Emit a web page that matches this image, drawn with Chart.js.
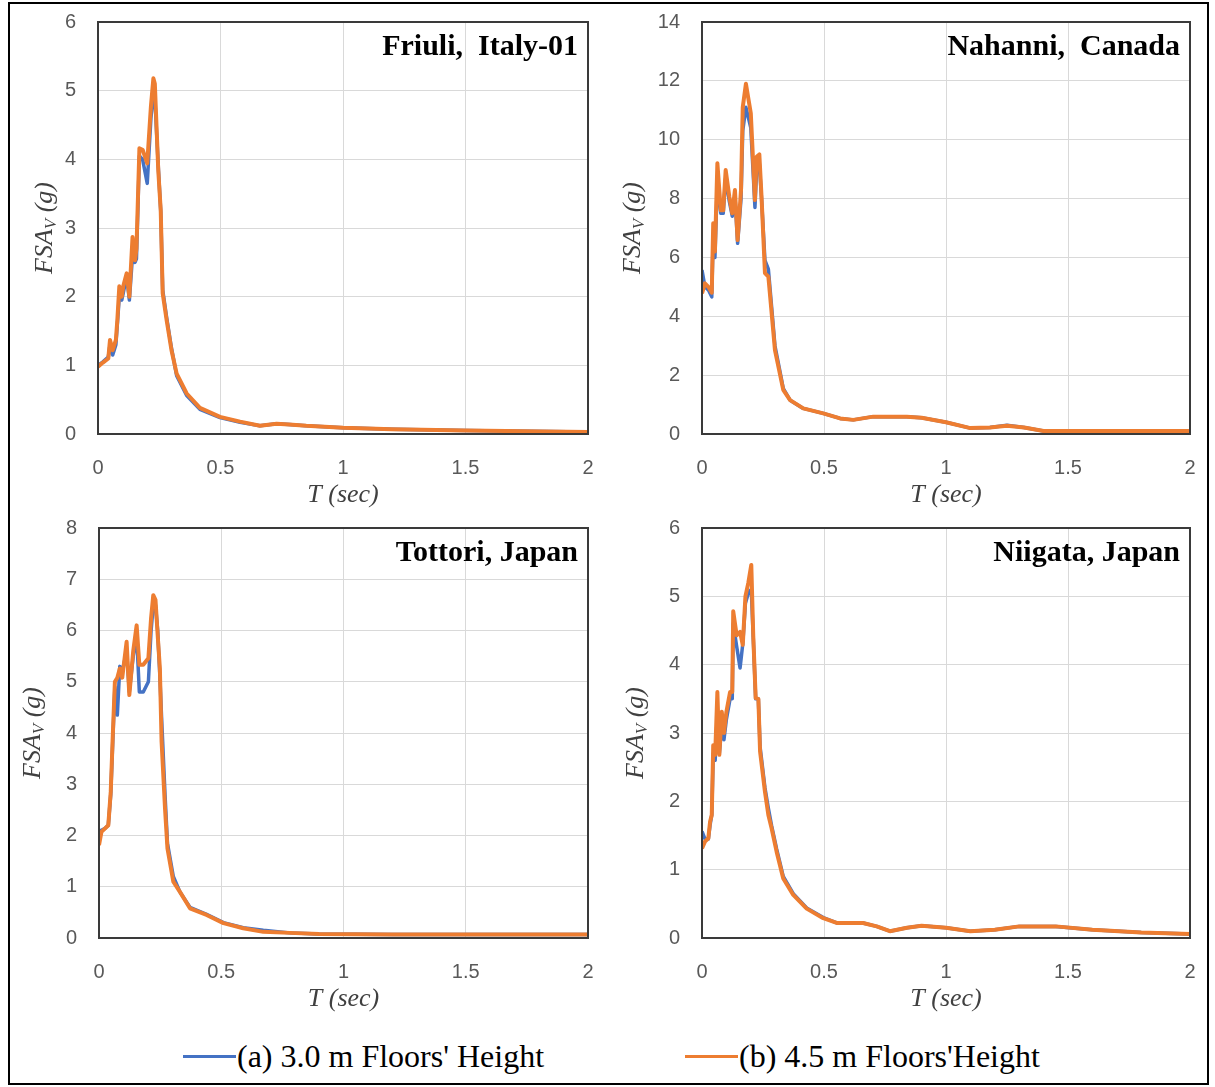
<!DOCTYPE html>
<html>
<head>
<meta charset="utf-8">
<script src="https://cdn.jsdelivr.net/npm/chart.js@4.4.1/dist/chart.umd.min.js"></script>
<style>
  body { margin: 0; background: #fff; width: 1215px; height: 1087px; position: relative; overflow: hidden; }
  #frame { position: absolute; left: 8px; top: 2px; width: 1201px; height: 1083px; border: 2px solid #000; box-sizing: border-box; }
  .panel { position: absolute; }
  .legend { position: absolute; top: 1036px; height: 40px; font-family: "Liberation Serif", "Times New Roman", serif; font-size: 32px; color: #000; white-space: nowrap; display: flex; align-items: center; }
  .legend span.swatch { display: inline-block; width: 53px; height: 3px; margin-right: 1px; }
</style>
</head>
<body>
<div id="frame"></div>
<div class="panel" style="left:10px;top:0px"><canvas id="c1" width="590" height="520"></canvas></div>
<div class="panel" style="left:610px;top:0px"><canvas id="c2" width="595" height="520"></canvas></div>
<div class="panel" style="left:10px;top:508px"><canvas id="c3" width="590" height="520"></canvas></div>
<div class="panel" style="left:610px;top:508px"><canvas id="c4" width="595" height="520"></canvas></div>
<div class="legend" style="left:183px"><span class="swatch" style="background:#4472C4"></span>(a) 3.0 m Floors' Height</div>
<div class="legend" style="left:685px"><span class="swatch" style="background:#ED7D31"></span>(b) 4.5 m Floors'Height</div>
<script>
// Floor spectral accelerations, period T (sec) vs FSA_V (g)
const friuliT      = [0, 0.02, 0.042, 0.049, 0.06, 0.073, 0.079, 0.087, 0.097, 0.103, 0.117, 0.128, 0.141, 0.151, 0.157, 0.169, 0.182, 0.201, 0.216, 0.226, 0.232, 0.246, 0.256, 0.264, 0.28, 0.30, 0.321, 0.362, 0.416, 0.498, 0.58, 0.661, 0.729, 0.78, 0.85, 1.0, 1.2, 1.5, 1.75, 2.0];
const friuli30     = [1.0, 1.05, 1.12, 1.3, 1.15, 1.3, 1.6, 2.0, 1.95, 2.05, 2.3, 1.95, 2.6, 2.5, 2.55, 4.05, 4.0, 3.65, 4.6, 4.95, 4.9, 3.9, 3.25, 2.1, 1.7, 1.25, 0.85, 0.56, 0.36, 0.24, 0.17, 0.12, 0.15, 0.14, 0.12, 0.09, 0.07, 0.05, 0.04, 0.03];
const friuli45     = [0.98, 1.04, 1.10, 1.37, 1.22, 1.37, 1.66, 2.15, 2.0, 2.15, 2.34, 2.0, 2.87, 2.53, 2.7, 4.16, 4.14, 3.94, 4.77, 5.18, 5.1, 3.84, 3.26, 2.05, 1.66, 1.22, 0.88, 0.59, 0.38, 0.25, 0.18, 0.12, 0.15, 0.14, 0.12, 0.09, 0.07, 0.05, 0.04, 0.03];

const nahanniT     = [0, 0.012, 0.026, 0.040, 0.046, 0.053, 0.063, 0.077, 0.087, 0.097, 0.112, 0.124, 0.135, 0.146, 0.16, 0.167, 0.18, 0.2, 0.217, 0.224, 0.235, 0.244, 0.258, 0.272, 0.299, 0.333, 0.361, 0.415, 0.497, 0.566, 0.62, 0.702, 0.77, 0.839, 0.9, 1.0, 1.1, 1.18, 1.25, 1.32, 1.4, 1.6, 1.8, 2.0];
const nahanni30    = [5.57, 5.0, 4.9, 4.66, 6.8, 6.0, 8.6, 7.5, 7.5, 8.7, 7.9, 7.4, 8.1, 6.48, 8.0, 10.3, 11.1, 10.4, 7.7, 9.0, 9.2, 8.0, 5.9, 5.6, 3.0, 1.55, 1.15, 0.87, 0.70, 0.53, 0.48, 0.59, 0.59, 0.59, 0.55, 0.4, 0.2, 0.22, 0.3, 0.22, 0.1, 0.1, 0.1, 0.1];
const nahanni45    = [4.78, 5.12, 5.0, 4.8, 7.16, 6.2, 9.2, 7.6, 7.6, 8.97, 8.06, 7.5, 8.29, 6.59, 8.3, 11.1, 11.9, 10.9, 7.95, 9.42, 9.5, 8.06, 5.47, 5.35, 2.85, 1.5, 1.15, 0.87, 0.70, 0.53, 0.48, 0.59, 0.59, 0.59, 0.55, 0.4, 0.2, 0.22, 0.28, 0.22, 0.1, 0.1, 0.1, 0.1];

const tottoriT     = [0, 0.01, 0.025, 0.038, 0.048, 0.056, 0.065, 0.075, 0.085, 0.095, 0.113, 0.124, 0.14, 0.154, 0.165, 0.181, 0.202, 0.213, 0.222, 0.231, 0.24, 0.249, 0.256, 0.27, 0.28, 0.304, 0.331, 0.372, 0.44, 0.509, 0.59, 0.672, 0.78, 0.9, 1.2, 1.6, 2.0];
const tottori30    = [2.1, 2.1, 2.14, 2.2, 2.8, 3.8, 4.9, 4.35, 5.3, 5.2, 5.6, 4.8, 5.5, 5.9, 4.8, 4.8, 5.0, 6.0, 6.5, 6.5, 6.0, 5.1, 4.3, 2.8, 1.85, 1.2, 0.9, 0.6, 0.46, 0.3, 0.2, 0.15, 0.1, 0.08, 0.07, 0.07, 0.07];
const tottori45    = [1.81, 2.07, 2.14, 2.2, 2.85, 3.9, 5.0, 5.08, 5.26, 5.08, 5.78, 4.74, 5.6, 6.1, 5.33, 5.33, 5.46, 6.24, 6.69, 6.6, 5.91, 5.26, 3.83, 2.53, 1.75, 1.1, 0.9, 0.58, 0.45, 0.29, 0.19, 0.12, 0.1, 0.08, 0.07, 0.07, 0.07];

const niigataT     = [0, 0.012, 0.026, 0.033, 0.04, 0.046, 0.054, 0.063, 0.071, 0.081, 0.09, 0.1, 0.115, 0.124, 0.128, 0.142, 0.156, 0.167, 0.178, 0.19, 0.202, 0.21, 0.22, 0.231, 0.238, 0.258, 0.272, 0.285, 0.306, 0.333, 0.374, 0.429, 0.497, 0.552, 0.66, 0.716, 0.77, 0.84, 0.9, 1.0, 1.1, 1.2, 1.3, 1.45, 1.6, 1.8, 2.0];
const niigata30    = [1.56, 1.45, 1.45, 1.65, 1.8, 2.7, 2.6, 3.3, 2.7, 3.1, 2.9, 3.2, 3.5, 3.5, 4.6, 4.27, 3.95, 4.3, 4.9, 5.05, 5.1, 4.4, 3.5, 3.5, 2.8, 2.2, 1.9, 1.65, 1.3, 0.9, 0.65, 0.44, 0.3, 0.22, 0.22, 0.17, 0.1, 0.15, 0.18, 0.15, 0.1, 0.12, 0.17, 0.17, 0.12, 0.08, 0.06];
const niigata45    = [1.31, 1.41, 1.46, 1.70, 1.8, 2.82, 2.68, 3.6, 2.68, 3.31, 3.0, 3.31, 3.6, 3.6, 4.78, 4.43, 4.48, 4.29, 5.0, 5.2, 5.46, 4.43, 3.51, 3.5, 2.73, 2.14, 1.80, 1.61, 1.26, 0.87, 0.63, 0.43, 0.29, 0.22, 0.22, 0.17, 0.1, 0.15, 0.18, 0.15, 0.1, 0.12, 0.17, 0.17, 0.12, 0.08, 0.06];

const BLUE = '#4472C4';
const ORANGE = '#ED7D31';

const panels = [
  { id: 'c1', title: 'Friuli,  Italy-01', T: friuliT, a: friuli30, b: friuli45, yMax: 6, yStep: 1,
    yWidth: 88, pad: { top: 22, right: 12 }, xHeight: 86, yTitleGap: 53 },
  { id: 'c2', title: 'Nahanni,  Canada', T: nahanniT, a: nahanni30, b: nahanni45, yMax: 14, yStep: 2,
    yWidth: 92, pad: { top: 22, right: 15 }, xHeight: 86, yTitleGap: 69 },
  { id: 'c3', title: 'Tottori, Japan', T: tottoriT, a: tottori30, b: tottori45, yMax: 8, yStep: 1,
    yWidth: 89, pad: { top: 20, right: 12 }, xHeight: 90, yTitleGap: 66 },
  { id: 'c4', title: 'Niigata, Japan', T: niigataT, a: niigata30, b: niigata45, yMax: 6, yStep: 1,
    yWidth: 92, pad: { top: 20, right: 15 }, xHeight: 90, yTitleGap: 66 }
];

// dark frame round the plot area, record name in the corner, axis titles
const decorations = {
  id: 'decorations',
  afterDraw(chart, args, opts) {
    const { ctx, chartArea: a } = chart;
    ctx.save();
    ctx.strokeStyle = '#3a3a3a';
    ctx.lineWidth = 2;
    ctx.strokeRect(a.left, a.top, a.right - a.left, a.bottom - a.top);

    ctx.fillStyle = '#000';
    ctx.font = 'bold 30px "Liberation Serif", serif';
    ctx.textAlign = 'right';
    ctx.textBaseline = 'middle';
    ctx.fillText(opts.title, a.right - 10, a.top + 25);

    ctx.fillStyle = '#404040';
    ctx.font = 'italic 26px "Liberation Serif", serif';
    ctx.textAlign = 'center';
    ctx.fillText('T (sec)', (a.left + a.right) / 2, a.bottom + 61);

    // rotated y title with subscript
    const cx = a.left - opts.gap, cy = (a.top + a.bottom) / 2;
    ctx.translate(cx, cy);
    ctx.rotate(-Math.PI / 2);
    const big = 'italic 26px "Liberation Serif", serif';
    const small = 'italic 17px "Liberation Serif", serif';
    ctx.font = big;  const w1 = ctx.measureText('FSA').width;
    ctx.font = small; const w2 = ctx.measureText('V').width;
    ctx.font = big;  const w3 = ctx.measureText(' (g)').width;
    let x = -(w1 + w2 + w3) / 2;
    ctx.textAlign = 'left';
    ctx.font = big;  ctx.fillText('FSA', x, 0); x += w1;
    ctx.font = small; ctx.fillText('V', x, 7); x += w2;
    ctx.font = big;  ctx.fillText(' (g)', x, 0);
    ctx.restore();
  }
};

const tickFont = { family: '"Liberation Sans", Arial', size: 20 };

panels.forEach(p => {
  const pts = v => p.T.map((t, i) => ({ x: t, y: v[i] }));
  new Chart(document.getElementById(p.id), {
    type: 'line',
    data: {
      datasets: [
        { label: "(a) 3.0 m Floors' Height", data: pts(p.a), borderColor: BLUE, borderWidth: 3.5, order: 2 },
        { label: "(b) 4.5 m Floors'Height", data: pts(p.b), borderColor: ORANGE, borderWidth: 4, order: 1 }
      ]
    },
    options: {
      responsive: false,
      animation: false,
      layout: { padding: { top: p.pad.top, right: p.pad.right, left: 0, bottom: 0 } },
      elements: { point: { radius: 0 }, line: { tension: 0, borderJoinStyle: 'round' } },
      plugins: {
        legend: { display: false },
        tooltip: { enabled: false },
        decorations: { title: p.title, gap: p.yTitleGap }
      },
      scales: {
        x: {
          type: 'linear', min: 0, max: 2,
          afterFit: s => { s.height = p.xHeight; s.paddingLeft = 0; s.paddingRight = 0; },
          grid: { color: '#d9d9d9', drawTicks: false },
          border: { display: false },
          ticks: { stepSize: 0.5, padding: 22, color: '#595959', font: tickFont, callback: v => String(v) }
        },
        y: {
          min: 0, max: p.yMax,
          afterFit: s => { s.width = p.yWidth; s.paddingTop = 0; s.paddingBottom = 0; },
          grid: { color: '#d9d9d9', drawTicks: false },
          border: { display: false },
          ticks: { stepSize: p.yStep, padding: 22, color: '#595959', font: tickFont }
        }
      }
    },
    plugins: [decorations]
  });
});
</script>
</body>
</html>
